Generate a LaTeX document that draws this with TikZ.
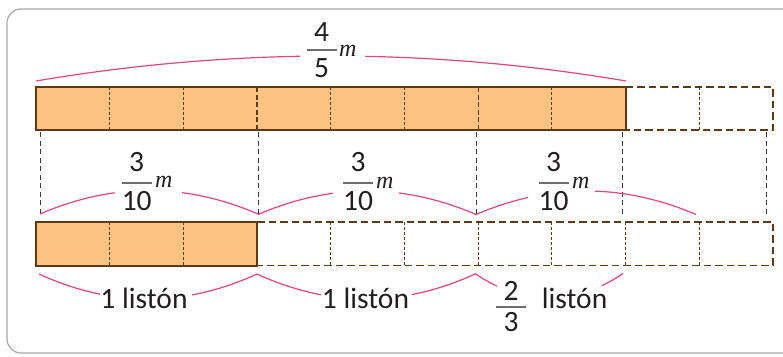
\documentclass[tikz,border=0pt]{standalone}
\usepackage{fontspec}
\setmainfont{Carlito}
\newfontfamily\mfont{Liberation Serif}
\definecolor{ink}{HTML}{231F20}
\definecolor{orfill}{HTML}{FDC383}
\definecolor{brn}{HTML}{5E3B16}
\definecolor{pnk}{HTML}{E8447E}
\definecolor{frm}{HTML}{A8A8A8}
\definecolor{fbar}{HTML}{6D6E71}
\definecolor{guidec}{HTML}{3A3A3A}
\newcommand\mybrace[6]{%
  \draw[bracestyle] plot[domain=#1:#5, samples=50] (\x, {#3-(#4)*(1-((\x-(#1+#2)/2)/((#2-#1)/2))*((\x-(#1+#2)/2)/((#2-#1)/2)))});
  \draw[bracestyle] plot[domain=#6:#2, samples=50] (\x, {#3-(#4)*(1-((\x-(#1+#2)/2)/((#2-#1)/2))*((\x-(#1+#2)/2)/((#2-#1)/2)))});
}
\newcommand\myfrac[7]{%
  \node[txt, anchor=base] (#1n) at (#2,#6) {#4};
  \node[txt, anchor=base] (#1d) at (#2,#7) {#5};
  \draw[fracbar] ({#2-15},#3) -- ({#2+15},#3);
}
\begin{document}
\begin{tikzpicture}[x=1pt,y=-1pt,
  txt/.style={font=\fontsize{29.5}{31}\selectfont, text=ink, inner sep=0pt},
  mlab/.style={font=\fontsize{24}{26}\selectfont\mfont\itshape, text=ink, inner sep=0pt},
  bracestyle/.style={draw=pnk, line width=1.2pt},
  fracbar/.style={draw=fbar, line width=1.8pt},
  barborder/.style={draw=brn, line width=2pt},
  emptyedge/.style={draw=brn, line width=1.6pt, dash pattern=on 7.5pt off 4pt},
  thindiv/.style={draw=brn, line width=0.9pt, dash pattern=on 3pt off 2pt},
  thickdiv/.style={draw=brn, line width=1.3pt, dash pattern=on 5pt off 2.5pt},
  guide/.style={draw=guidec, line width=1pt, dash pattern=on 5pt off 3.5pt}]
\useasboundingbox (0,0) rectangle (783,356);
\begin{scope}
\clip (0,0) rectangle (783,356);
\draw[frm, line width=1.2pt, rounded corners=14pt] (795,9) -- (7,9) -- (7,353) -- (795,353);
\end{scope}
\def\w{73.7}
% top bar
\fill[orfill] (36,87) rectangle (625.6,130);
\foreach \k in {1,2,4,5,7} \draw[thindiv] ({36+\k*\w},87) -- ({36+\k*\w},130);
\foreach \k in {3,6} \draw[thickdiv] ({36+\k*\w},87) -- ({36+\k*\w},130);
\draw[emptyedge] (625.6,87) -- (773,87) -- (773,130) -- (625.6,130);
\draw[thindiv] ({36+9*\w},87) -- ({36+9*\w},130);
\draw[barborder] (36,87) rectangle (625.6,130);
% bottom bar
\fill[orfill] (36,222) rectangle (257.1,265.5);
\foreach \k in {1,2} \draw[thindiv] ({36+\k*\w},222) -- ({36+\k*\w},265.5);
\draw[emptyedge] (257.1,222) -- (773,222) -- (773,265.5) -- (257.1,265.5);
\foreach \k in {4,...,9} \draw[thindiv] ({36+\k*\w},222) -- ({36+\k*\w},265.5);
\draw[barborder] (36,222) rectangle (257.1,265.5);
% guides
\foreach \gx in {40,258,476,622,766} \draw[guide] (\gx,132) -- (\gx,215);
% braces
\mybrace{36}{626}{81}{25}{300}{365}
\mybrace{40}{258}{214}{23.5}{115}{182}
\mybrace{258}{476}{214.5}{23.5}{333}{399}
\mybrace{476}{696}{214.5}{23.5}{528}{595}
\mybrace{39}{257}{274}{-25}{100}{192}
\mybrace{257}{475}{274}{-25}{321}{412}
\mybrace{475}{623}{273.5}{-25}{497}{602}
% labels
\myfrac{ft}{321.5}{50.3}{4}{5}{41.3}{77.3}
\node[mlab, anchor=base west] (mt) at (339,56) {m};
\myfrac{fa}{136.7}{183.3}{3}{10}{171.7}{210}
\node[mlab, anchor=base west] (ma) at (155,187.7) {m};
\myfrac{fb}{358}{183.3}{3}{10}{171.7}{210}
\node[mlab, anchor=base west] (mb) at (376,188) {m};
\myfrac{fc}{553.5}{183.3}{3}{10}{171.7}{210}
\node[mlab, anchor=base west] (mc) at (572,188) {m};
\node[txt, anchor=base] (l1) at (144,308) {1 listón};
\node[txt, anchor=base] (l2) at (365.5,308) {1 listón};
\myfrac{fd}{511}{306.7}{2}{3}{300.7}{331.7}
\node[txt, anchor=base west] (l3) at (541.7,308) {listón};
\end{tikzpicture}
\end{document}
